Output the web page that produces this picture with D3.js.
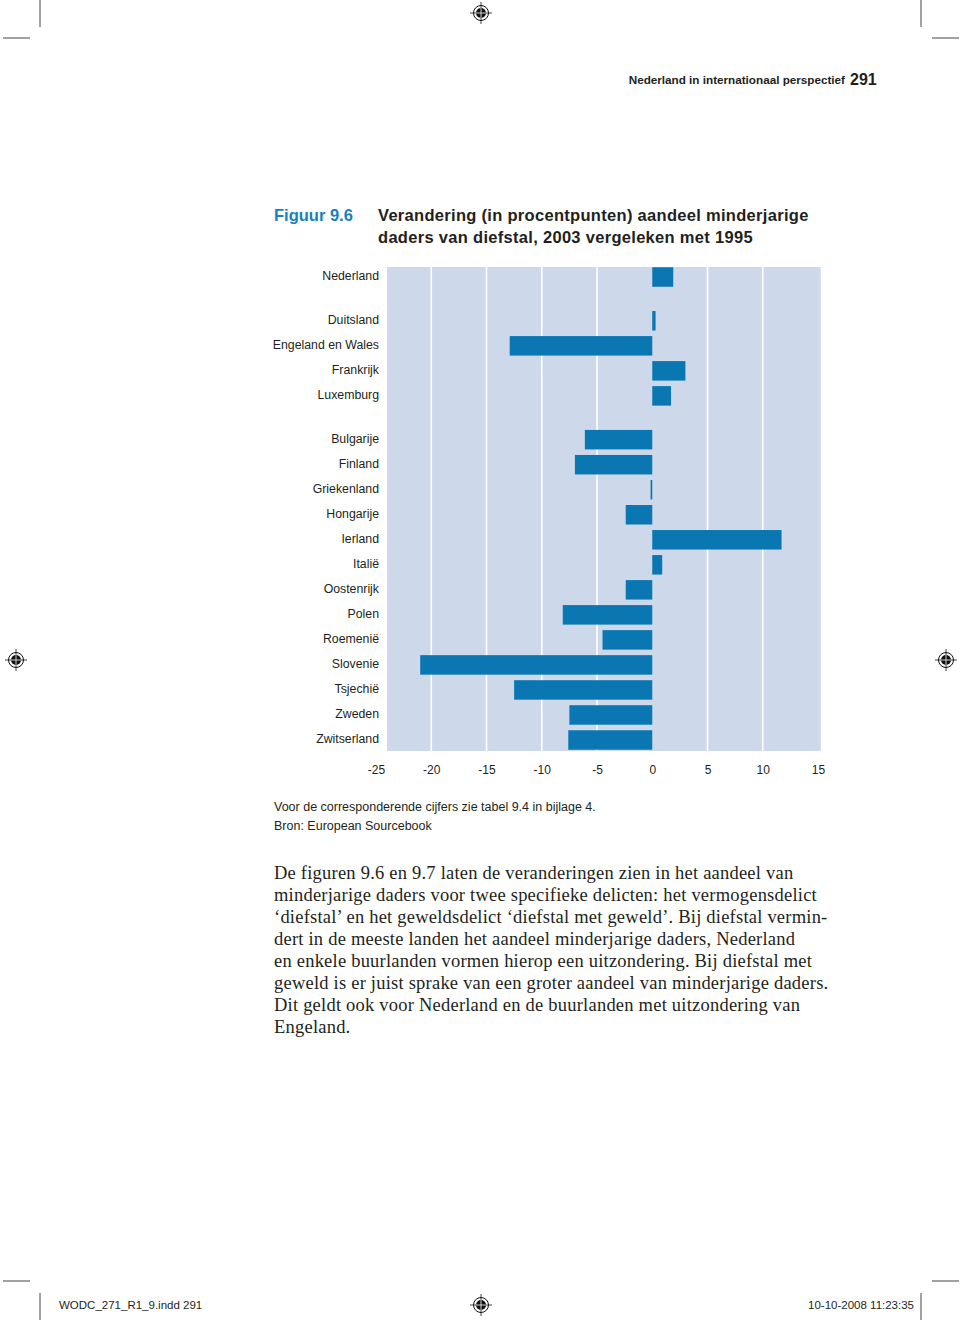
<!DOCTYPE html>
<html><head><meta charset="utf-8">
<script src="https://cdn.jsdelivr.net/npm/d3@7"></script>
<style>body{margin:0;background:#fff}svg{display:block}</style>
</head><body>
<svg id="c" width="960" height="1320"></svg>
<script>
// ---- data ----
const group1 = ["Nederland"];
const group2 = ["Duitsland", "Engeland en Wales", "Frankrijk", "Luxemburg"];
const group3 = ["Bulgarije", "Finland", "Griekenland", "Hongarije", "Ierland", "Italië",
  "Oostenrijk", "Polen", "Roemenië", "Slovenie", "Tsjechië", "Zweden", "Zwitserland"];
const values1 = [1.9];
const values2 = [0.3, -12.9, 3.0, 1.7];
const values3 = [-6.1, -7.0, -0.15, -2.4, 11.7, 0.9, -2.4, -8.1, -4.5, -21.0, -12.5, -7.5, -7.6];
const tickValues = [-25, -20, -15, -10, -5, 0, 5, 10, 15];
const titleLines = ["Verandering (in procentpunten) aandeel minderjarige",
  "daders van diefstal, 2003 vergeleken met 1995"];
const notes = ["Voor de corresponderende cijfers zie tabel 9.4 in bijlage 4.",
  "Bron: European Sourcebook"];
const bodyLines = [
  "De figuren 9.6 en 9.7 laten de veranderingen zien in het aandeel van",
  "minderjarige daders voor twee specifieke delicten: het vermogensdelict",
  "‘diefstal’ en het geweldsdelict ‘diefstal met geweld’. Bij diefstal vermin-",
  "dert in de meeste landen het aandeel minderjarige daders, Nederland",
  "en enkele buurlanden vormen hierop een uitzondering. Bij diefstal met",
  "geweld is er juist sprake van een groter aandeel van minderjarige daders.",
  "Dit geldt ook voor Nederland en de buurlanden met uitzondering van",
  "Engeland."
];

// ---- build rows with group gaps ----
const GAP = 0.75;
const rows = [];
[[group1, values1], [group2, values2], [group3, values3]].forEach(([names, vals], g) => {
  names.forEach((n, i) => rows.push({name: n, value: vals[i], pos: rows.length + g * GAP}));
});
const maxPos = d3.max(rows, d => d.pos);

const svg = d3.select("#c");
const sans = "'Liberation Sans', Arial, Helvetica, sans-serif";
const narrow = "'Liberation Sans Narrow', 'Arial Narrow', " + sans;
const serif = "'Liberation Serif', 'Times New Roman', serif";
const ink = "#231f20";

// ---- scales ----
const x = d3.scaleLinear().domain([-25, 15]).range([376, 818]);
const y = d3.scaleLinear().domain([0, maxPos]).range([277, 740]);
const barH = 19.5;

// background
const bgTop = 267, bgBottom = 751;
svg.append("rect").attr("x", x(-24)).attr("y", bgTop)
  .attr("width", x(15.25) - x(-24)).attr("height", bgBottom - bgTop)
  .attr("fill", "#cdd9ea");

// white gridlines
svg.append("g").selectAll("line").data(tickValues.filter(t => t > -25 && t < 15 && t !== 0))
  .join("line")
  .attr("x1", d => x(d)).attr("x2", d => x(d))
  .attr("y1", bgTop).attr("y2", bgBottom)
  .attr("stroke", "#fff").attr("stroke-width", 1.6);

// bars
svg.append("g").selectAll("rect").data(rows).join("rect")
  .attr("x", d => x(Math.min(0, d.value)))
  .attr("width", d => Math.max(1, Math.abs(x(d.value) - x(0))))
  .attr("y", d => y(d.pos) - barH / 2)
  .attr("height", barH)
  .attr("fill", "#0a77b3");

// category labels
svg.append("g").selectAll("text").data(rows).join("text")
  .attr("x", 379).attr("y", d => y(d.pos) + 3)
  .attr("text-anchor", "end")
  .attr("font-family", sans).attr("font-size", 12.3).attr("fill", ink)
  .text(d => d.name);

// x axis labels
const ax = svg.append("g").attr("transform", `translate(0,${bgBottom})`)
  .call(d3.axisBottom(x).tickValues(tickValues).tickSize(0).tickPadding(14)
    .tickFormat(d => d < 0 ? "-" + Math.abs(d) : d));
ax.select(".domain").remove();
ax.selectAll("text").attr("font-family", sans).attr("font-size", 12).attr("fill", ink);

// title
svg.append("text").attr("x", 274).attr("y", 221)
  .attr("font-family", sans).attr("font-weight", "bold").attr("font-size", 16.5)
  .attr("fill", "#1a7fba").text("Figuur 9.6");
svg.append("g").selectAll("text").data(titleLines).join("text")
  .attr("x", 378).attr("y", (d, i) => 221 + i * 22)
  .attr("font-family", sans).attr("font-weight", "bold").attr("font-size", 16.5)
  .attr("letter-spacing", 0.3)
  .attr("fill", ink).text(d => d);

// notes
svg.append("g").selectAll("text").data(notes).join("text")
  .attr("x", 274).attr("y", (d, i) => 811 + i * 19)
  .attr("font-family", sans).attr("font-size", 12.5).attr("fill", ink).text(d => d);

// body paragraph
svg.append("g").selectAll("text").data(bodyLines).join("text")
  .attr("x", 274).attr("y", (d, i) => 879 + i * 22)
  .attr("font-family", serif).attr("font-size", 18.5).attr("letter-spacing", 0.22)
  .attr("fill", ink).text(d => d);

// running header
svg.append("text").attr("x", 845).attr("y", 84).attr("text-anchor", "end")
  .attr("font-family", narrow)
  .attr("font-weight", "bold").attr("font-size", 11.7).attr("fill", ink)
  .text("Nederland in internationaal perspectief");
svg.append("text").attr("x", 850).attr("y", 85)
  .attr("font-family", narrow)
  .attr("font-weight", "bold").attr("font-size", 16).attr("fill", ink).text("291");

// slug line
svg.append("text").attr("x", 59).attr("y", 1309)
  .attr("font-family", narrow)
  .attr("font-size", 11.5).attr("fill", ink).text("WODC_271_R1_9.indd   291");
svg.append("text").attr("x", 914).attr("y", 1309).attr("text-anchor", "end")
  .attr("font-family", narrow)
  .attr("font-size", 11.5).attr("fill", ink).text("10-10-2008   11:23:35");

// crop marks
const crop = [
  [40, 0, 40, 27], [921, 0, 921, 27], [3, 38, 30, 38], [932, 38, 959, 38],
  [3, 1281, 30, 1281], [932, 1281, 959, 1281], [40, 1293, 40, 1320], [921, 1293, 921, 1320]
];
svg.append("g").selectAll("line").data(crop).join("line")
  .attr("x1", d => d[0]).attr("y1", d => d[1]).attr("x2", d => d[2]).attr("y2", d => d[3])
  .attr("stroke", "#444").attr("stroke-width", 1);

// registration marks
const regs = [[481, 13], [16, 660], [946, 660], [481, 1305]];
const rg = svg.append("g").selectAll("g").data(regs).join("g")
  .attr("transform", d => `translate(${d[0]},${d[1]})`);
rg.append("circle").attr("r", 7.5).attr("fill", "none").attr("stroke", "#111").attr("stroke-width", 1);
rg.append("circle").attr("r", 5).attr("fill", "#111");
rg.append("line").attr("x1", -11).attr("x2", 11).attr("stroke", "#111").attr("stroke-width", 0.8);
rg.append("line").attr("y1", -11).attr("y2", 11).attr("stroke", "#111").attr("stroke-width", 0.8);
rg.append("line").attr("x1", -5).attr("x2", 5).attr("stroke", "#fff").attr("stroke-width", 0.8);
rg.append("line").attr("y1", -5).attr("y2", 5).attr("stroke", "#fff").attr("stroke-width", 0.8);
</script>
</body></html>
